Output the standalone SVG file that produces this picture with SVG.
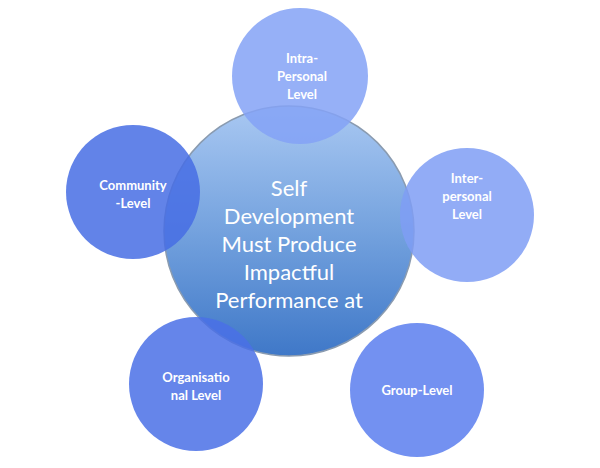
<svg xmlns="http://www.w3.org/2000/svg" width="600" height="468" viewBox="0 0 600 468">
<defs>
<linearGradient id="cg" x1="0" y1="0" x2="0" y2="1">
<stop offset="0" stop-color="#a9c8f2"/><stop offset="0.5" stop-color="#74a2de"/><stop offset="1" stop-color="#3f78c8"/>
</linearGradient>
</defs>
<style>
.sat{fill-opacity:0.85}
.t{font-family:Lato,"Liberation Sans",Arial,sans-serif;font-weight:bold;font-size:13px;fill:#fff;text-anchor:middle}
.c{font-family:Lato,"Liberation Sans",sans-serif;font-size:22px;fill:#fff;text-anchor:middle}
</style>
<rect width="600" height="468" fill="#fff"/>
<g id="center">
<circle cx="289" cy="231" r="125" fill="url(#cg)" stroke="#8a9bb0" stroke-width="1.5"/>
<text class="c" x="289" y="196">Self</text>
<text class="c" x="289" y="224">Development</text>
<text class="c" x="289" y="252">Must Produce</text>
<text class="c" x="289" y="280">Impactful</text>
<text class="c" x="289" y="308">Performance at</text>
</g>
<g id="connectors"></g>
<g id="intra">
<circle class="sat" cx="300" cy="76" r="68" fill="#84a2f6"/>
<text class="t" x="302" y="63">Intra-</text><text class="t" x="302" y="81">Personal</text><text class="t" x="302" y="99">Level</text>
</g>
<g id="inter">
<circle class="sat" cx="467" cy="215" r="67" fill="#7f9df5"/>
<text class="t" x="467" y="183">Inter-</text><text class="t" x="467" y="201">personal</text><text class="t" x="467" y="219">Level</text>
</g>
<g id="group">
<circle class="sat" cx="417" cy="390" r="67" fill="#5a7eee"/>
<text class="t" x="417" y="395">Group-Level</text>
</g>
<g id="org">
<circle class="sat" cx="196" cy="384" r="67" fill="#4a70e6"/>
<text class="t" x="196" y="382">Organisatio</text><text class="t" x="196" y="400">nal Level</text>
</g>
<g id="community">
<circle class="sat" cx="133" cy="192" r="67" fill="#476de4"/>
<text class="t" x="133" y="190">Community</text><text class="t" x="133" y="208">-Level</text>
</g>
</svg>
